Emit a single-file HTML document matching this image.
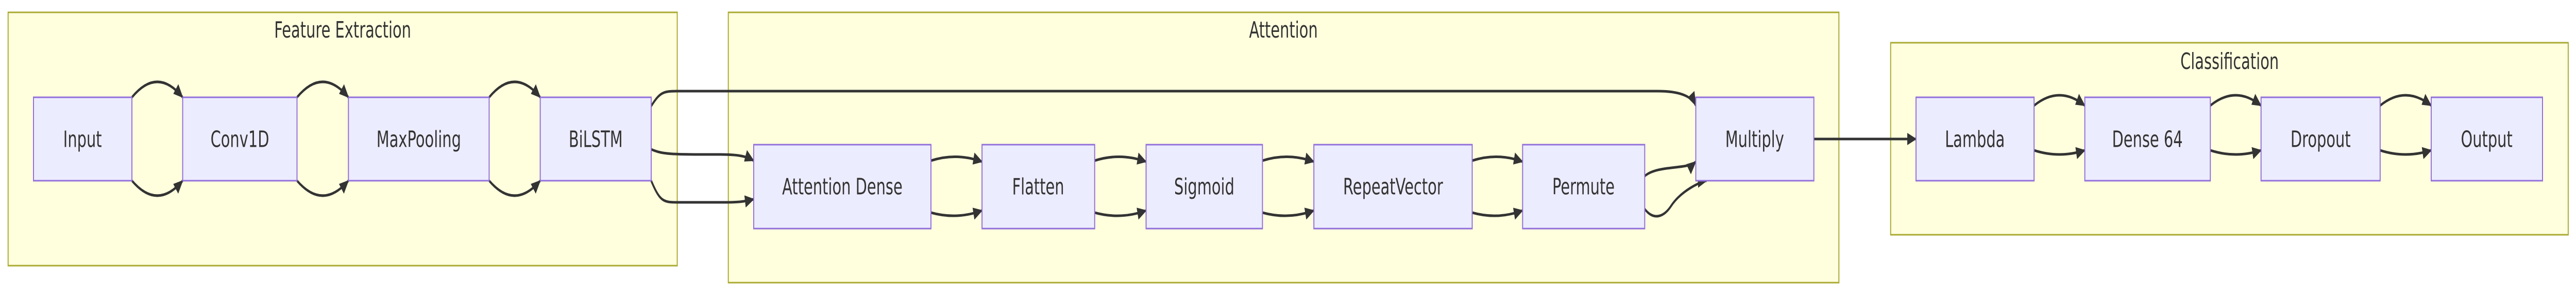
<!DOCTYPE html>
<html><head><meta charset="utf-8"><style>
html,body{margin:0;padding:0;background:#fff;width:100%;height:100%;overflow:hidden;}
svg{display:block;width:100vw;height:100vh;}
text{font-family:"DejaVu Sans","Liberation Sans",sans-serif;font-size:44px;fill:#333;}
.c{fill:#ffffde;stroke:#aaaa33;stroke-width:3;}
.n{fill:#ececff;stroke:#9370db;stroke-width:3;}
.e{fill:none;stroke:#333;stroke-width:5;}
</style></head><body>
<svg viewBox="0 0 7615 573" preserveAspectRatio="none" xmlns="http://www.w3.org/2000/svg">
<defs><marker id="a" markerUnits="userSpaceOnUse" markerWidth="30" markerHeight="30" refX="26" refY="12" orient="auto"><path d="M0,0 L28,12 L0,24 z" fill="#333"/></marker></defs>
<rect class="c" x="24" y="24" width="1978" height="492"/>
<rect class="c" x="2153" y="24" width="3283" height="525"/>
<rect class="c" x="5589" y="83" width="2003" height="373"/>
<g text-anchor="middle">
<text x="1013" y="73">Feature Extraction</text>
<text x="3794" y="73">Attention</text>
<text x="6591" y="134">Classification</text>
</g>
<g class="e" marker-end="url(#a)">
<path d="M390,189 Q465,129 540,189"/><path d="M390,351 Q465,409 540,351"/>
<path d="M878,189 Q954,129 1030,189"/><path d="M878,351 Q954,409 1030,351"/>
<path d="M1446,189 Q1521,129 1597,189"/><path d="M1446,351 Q1521,409 1597,351"/>
<path d="M1925,206 C1950,180 1960,177 2000,177 L4900,177 C4960,177 5000,185 5013,205"/>
<path d="M1925,290 C1960,300 1980,300 2130,300 C2190,300 2210,305 2228,312"/>
<path d="M1925,351 C1950,390 1960,393 2000,393 L2150,393 C2190,393 2210,390 2228,387"/>
<path d="M2752,312 Q2828,296 2903,314"/><path d="M2752,413 Q2828,427 2903,409"/>
<path d="M3236,312 Q3312,296 3388,314"/><path d="M3236,413 Q3312,427 3388,409"/>
<path d="M3732,312 Q3808,296 3884,314"/><path d="M3732,413 Q3808,427 3884,409"/>
<path d="M4352,312 Q4427,296 4501,314"/><path d="M4352,413 Q4427,427 4501,409"/>
<path d="M4862,342 C4900,320 4990,330 5013,314"/>
<path d="M4862,406 C4890,430 4920,420 4940,400 C4970,370 5030,352 5045,351"/>
<path d="M5362,270 L5664,270"/>
<path d="M6013,205 Q6088,165 6163,205"/><path d="M6013,292 Q6088,308 6163,292"/>
<path d="M6534,205 Q6609,165 6684,205"/><path d="M6534,292 Q6609,308 6684,292"/>
<path d="M7036,205 Q7111,165 7187,205"/><path d="M7036,292 Q7111,308 7187,292"/>
</g>
<rect class="n" x="99" y="189" width="291" height="162"/>
<rect class="n" x="540" y="189" width="338" height="162"/>
<rect class="n" x="1030" y="189" width="416" height="162"/>
<rect class="n" x="1597" y="189" width="328" height="162"/>
<rect class="n" x="2228" y="281" width="524" height="163"/>
<rect class="n" x="2903" y="281" width="333" height="163"/>
<rect class="n" x="3388" y="281" width="344" height="163"/>
<rect class="n" x="3884" y="281" width="468" height="163"/>
<rect class="n" x="4501" y="281" width="361" height="163"/>
<rect class="n" x="5013" y="189" width="349" height="162"/>
<rect class="n" x="5664" y="189" width="349" height="162"/>
<rect class="n" x="6163" y="189" width="371" height="162"/>
<rect class="n" x="6684" y="189" width="352" height="162"/>
<rect class="n" x="7187" y="189" width="329" height="162"/>
<g text-anchor="middle" dominant-baseline="central">
<text x="244" y="270">Input</text>
<text x="709" y="270">Conv1D</text>
<text x="1238" y="270">MaxPooling</text>
<text x="1761" y="270">BiLSTM</text>
<text x="2490" y="362">Attention Dense</text>
<text x="3069" y="362">Flatten</text>
<text x="3560" y="362">Sigmoid</text>
<text x="4118" y="362">RepeatVector</text>
<text x="4681" y="362">Permute</text>
<text x="5187" y="270">Multiply</text>
<text x="5838" y="270">Lambda</text>
<text x="6348" y="270">Dense 64</text>
<text x="6860" y="270">Dropout</text>
<text x="7351" y="270">Output</text>
</g>
</svg>
</body></html>
